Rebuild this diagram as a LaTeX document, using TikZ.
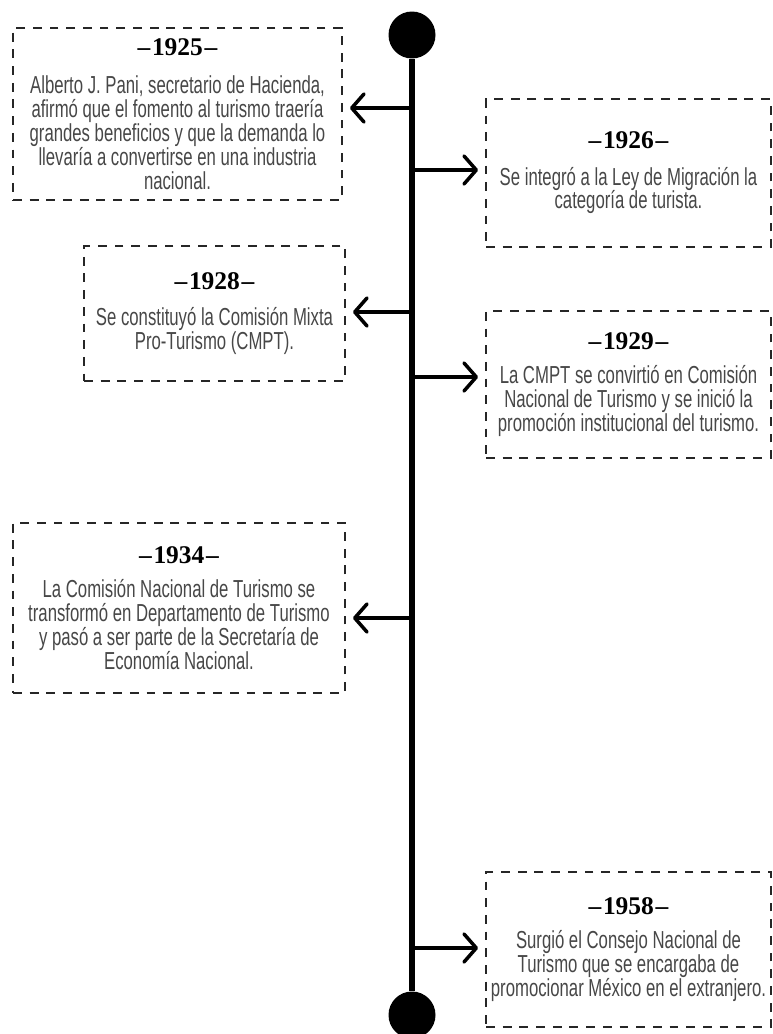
\documentclass[tikz,border=0pt]{standalone}
\usepackage{fontspec}
\setmainfont{Liberation Sans}[FakeStretch=0.68]
\newfontfamily\yearfont{Liberation Serif}[Ligatures=TeX]
\usetikzlibrary{arrows.meta}

\newcommand{\eventyear}[1]{{\color{black}\yearfont\bfseries\fontsize{14.5}{16}\selectfont \textendash\hspace{1pt}#1\hspace{1pt}\textendash}}

\begin{document}
\begin{tikzpicture}[
    x=0.02cm, y=-0.02cm,
    spine/.style={line width=3.4pt, black},
    dot/.style={circle, fill=black, minimum size=0.94cm, inner sep=0pt},
    event/.style={rectangle, draw=black!85, line width=1.1pt, dash pattern=on 5pt off 4.5pt, align=center, inner sep=0pt, text=black!72, font=\fontsize{14}{13.6}\selectfont},
    branch/.style={-{Straight Barb[length=7pt, width=16pt, round]}, line width=2pt, shorten >=4pt}
]
\useasboundingbox (0,0) rectangle (773,1034);

% Timeline
\node[dot] (start) at (412, 35) {};
\node[dot] (end)   at (412, 1015) {};
\draw[spine] (start) -- (end);

% Events
\node[event, minimum width=6.58cm, minimum height=3.44cm] (e1925) at (177.5, 114) {\eventyear{1925}\\[8pt]Alberto J. Pani, secretario de Hacienda,\\afirmó que el fomento al turismo traería\\grandes beneficios y que la demanda lo\\llevaría a convertirse en una industria\\nacional.};
\node[event, minimum width=5.70cm, minimum height=2.96cm] (e1926) at (628.5, 173) {\eventyear{1926}\\[7pt]Se integró a la Ley de Migración la\\categoría de turista.};
\node[event, minimum width=5.22cm, minimum height=2.70cm] (e1928) at (214.5, 313.5) {\eventyear{1928}\\[7pt]Se constituyó la Comisión Mixta\\Pro-Turismo (CMPT).};
\node[event, minimum width=5.70cm, minimum height=2.94cm] (e1929) at (628.5, 384.5) {\eventyear{1929}\\[6pt]La CMPT se convirtió en Comisión\\Nacional de Turismo y se inició la\\promoción institucional del turismo.};
\node[event, minimum width=6.64cm, minimum height=3.40cm] (e1934) at (179, 608) {\eventyear{1934}\\[6pt]La Comisión Nacional de Turismo se\\transformó en Departamento de Turismo\\y pasó a ser parte de la Secretaría de\\Economía Nacional.};
\node[event, minimum width=5.70cm, minimum height=3.10cm] (e1958) at (628.5, 949.5) {\eventyear{1958}\\[6pt]Surgió el Consejo Nacional de\\Turismo que se encargaba de\\promocionar México en el extranjero.};

% Branch points on the timeline
\coordinate (p1925) at (412, 108);
\coordinate (p1926) at (412, 170);
\coordinate (p1928) at (412, 312);
\coordinate (p1929) at (412, 377);
\coordinate (p1934) at (412, 618);
\coordinate (p1958) at (412, 948);

% Arrows
\draw[branch] (p1925) -- (p1925 -| e1925.east);
\draw[branch] (p1926) -- (p1926 -| e1926.west);
\draw[branch] (p1928) -- (p1928 -| e1928.east);
\draw[branch] (p1929) -- (p1929 -| e1929.west);
\draw[branch] (p1934) -- (p1934 -| e1934.east);
\draw[branch] (p1958) -- (p1958 -| e1958.west);

\end{tikzpicture}
\end{document}
